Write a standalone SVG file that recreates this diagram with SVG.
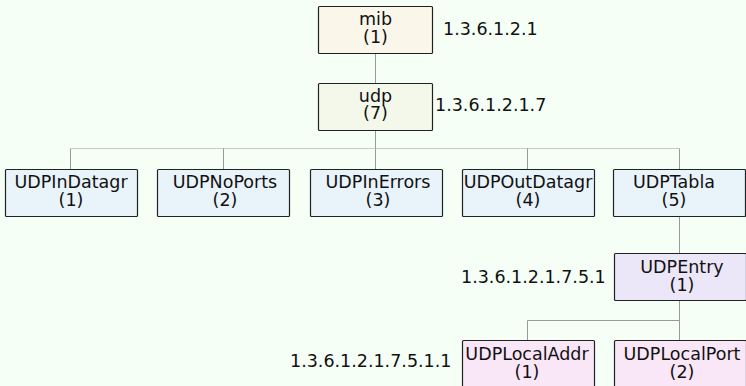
<svg xmlns="http://www.w3.org/2000/svg" width="746" height="386" viewBox="0 0 746 386">
<style>
.bx{stroke:#222;stroke-width:1.2}
.t{font-family:"DejaVu Sans",sans-serif;font-size:17.5px;fill:#111;text-anchor:middle}
.l{font-family:"DejaVu Sans",sans-serif;font-size:17.5px;fill:#111}
.c{fill:none;stroke:#999;stroke-width:1}
.h{fill:none;stroke:#c8c8c8;stroke-width:1}
</style>
<rect width="746" height="386" fill="#f5fff6"/>
<g id="connectors">
<path class="c" d="M375.5 53V83M375.5 130V148.5"/>
<path class="h" d="M70.5 148.5H679.5"/>
<path class="c" d="M70.5 148.5V169M223.5 148.5V169M375.5 148.5V169M527.5 148.5V169M679.5 148.5V169"/>
<path class="c" stroke="#777" d="M679.5 216V253M679.5 300V340M527.5 320.5H679.5M527.5 320.5V340"/>
</g>
<g id="mib"><rect class="bx" x="318.5" y="6.5" width="114" height="47" rx="1" fill="#faf6ea"/><text class="t" x="375.5" y="25">mib<tspan x="375.5" dy="17.5">(1)</tspan></text></g>
<text class="l" x="443" y="35">1.3.6.1.2.1</text>
<g id="udp"><rect class="bx" x="318.5" y="83.5" width="114" height="47" rx="1" fill="#f4f8ea"/><text class="t" x="375.5" y="101.5">udp<tspan x="375.5" dy="17.5">(7)</tspan></text></g>
<text class="l" x="435" y="111">1.3.6.1.2.1.7</text>
<g id="udpInDatagr"><rect class="bx" x="5.5" y="169.5" width="132" height="47" rx="1" fill="#e9f3fa"/><text class="t" x="71" y="188">UDPInDatagr<tspan x="71" dy="17.5">(1)</tspan></text></g>
<g id="udpNoPorts"><rect class="bx" x="157.5" y="169.5" width="132" height="47" rx="1" fill="#e9f3fa"/><text class="t" x="225" y="188">UDPNoPorts<tspan x="225" dy="17.5">(2)</tspan></text></g>
<g id="udpInErrors"><rect class="bx" x="310.5" y="169.5" width="132" height="47" rx="1" fill="#e9f3fa"/><text class="t" x="378" y="188">UDPInErrors<tspan x="378" dy="17.5">(3)</tspan></text></g>
<g id="udpOutDatagr"><rect class="bx" x="462.5" y="169.5" width="132" height="47" rx="1" fill="#e9f3fa"/><text class="t" x="528" y="188">UDPOutDatagr<tspan x="528" dy="17.5">(4)</tspan></text></g>
<g id="udpTabla"><rect class="bx" x="613.5" y="169.5" width="132" height="47" rx="1" fill="#e9f3fa"/><text class="t" x="674" y="188">UDPTabla<tspan x="674" dy="17.5">(5)</tspan></text></g>
<g id="udpEntry"><rect class="bx" x="614.5" y="253.5" width="132" height="47" rx="1" fill="#ece6f9"/><text class="t" x="682" y="273">UDPEntry<tspan x="682" dy="17.5">(1)</tspan></text></g>
<text class="l" x="461" y="283">1.3.6.1.2.1.7.5.1</text>
<g id="udpLocalAddr"><rect class="bx" x="462.5" y="340.5" width="132" height="50" rx="1" fill="#f9e6f6"/><text class="t" x="527" y="360">UDPLocalAddr<tspan x="527" dy="17.5">(1)</tspan></text></g>
<g id="udpLocalPort"><rect class="bx" x="614.5" y="340.5" width="132" height="50" rx="1" fill="#f9e6f6"/><text class="t" x="682" y="360">UDPLocalPort<tspan x="682" dy="17.5">(2)</tspan></text></g>
<text class="l" x="290" y="367">1.3.6.1.2.1.7.5.1.1</text>
</svg>
